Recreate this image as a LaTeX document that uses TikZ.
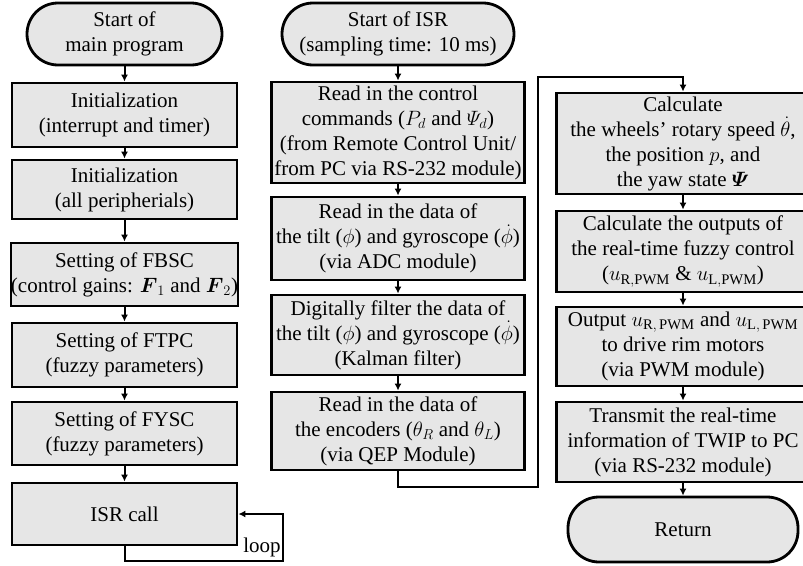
\documentclass[tikz,border=0pt]{standalone}
\usepackage{amsmath}
\usepackage{fontspec}
\setmainfont{Liberation Serif}
\usetikzlibrary{arrows.meta}
\definecolor{boxgray}{RGB}{230,230,230}

\begin{document}
\begin{tikzpicture}[x=1pt,y=-1pt,
  every node/.style={font=\fontsize{21}{25}\selectfont},
  proc/.style 2 args={draw, line width=2.8pt, fill=boxgray, align=center,
    inner sep=0pt, minimum width=#1, minimum height=#2},
  term/.style 2 args={proc={#1}{#2}, rounded corners=31pt},
  arr/.style={line width=2pt, -{Latex[length=7pt,width=7pt]}}]

\useasboundingbox (0,0) rectangle (803,565);

% Main program (left column)
\node[term={195}{62}] (startmain) at (124.5,34) {Start of\\main program};
\node[proc={225}{64}] (initit) at (124.5,115) {Initialization\\(interrupt and timer)};
\node[proc={225}{59}] (initper) at (124.5,189.5) {Initialization\\(all peripherials)};
\node[proc={225}{63}] (fbsc) at (124.5,274.5) {Setting of FBSC\\(control gains: $\boldsymbol{F}_1$ and $\boldsymbol{F}_2$)};
\node[proc={225}{64}] (ftpc) at (124.5,355) {Setting of FTPC\\(fuzzy parameters)};
\node[proc={225}{63}] (fysc) at (124.5,433.5) {Setting of FYSC\\(fuzzy parameters)};
\node[proc={225}{62}] (isrcall) at (124.5,514) {ISR call};

% ISR, first part (middle column)
\node[term={232}{62}] (startisr) at (398,34) {Start of ISR\\(sampling time: 10 ms)};
\node[proc={253}{101}] (readcmd) at (398,132.5) {Read in the control\\commands ($P_d$ and $\varPsi_d$)\\(from Remote Control Unit/\\from PC via RS-232 module)};
\node[proc={253}{83}] (readadc) at (398,238.5) {Read in the data of\\the tilt ($\phi$) and gyroscope ($\dot{\phi}$)\\(via ADC module)};
\node[proc={253}{80}] (kalman) at (398,335) {Digitally filter the data of\\the tilt ($\phi$) and gyroscope ($\dot{\phi}$)\\(Kalman filter)};
\node[proc={253}{78}] (readqep) at (398,431) {Read in the data of\\the encoders ($\theta_R$ and $\theta_L$)\\(via QEP Module)};

% ISR, second part (right column)
\node[proc={253}{101}] (calcstate) at (683,143.5) {Calculate\\the wheels' rotary speed $\dot{\theta}$,\\the position $p$, and\\the yaw state $\boldsymbol{\varPsi}$};
\node[proc={253}{81}] (calcfuzzy) at (683,251.5) {Calculate the outputs of\\the real-time fuzzy control\\($u_{\mathrm{R,PWM}}$ \& $u_{\mathrm{L,PWM}}$)};
\node[proc={253}{79}] (outpwm) at (683,346.5) {Output $u_{\mathrm{R,\,PWM}}$ and $u_{\mathrm{L,\,PWM}}$\\to drive rim motors\\(via PWM module)};
\node[proc={253}{80}] (transmit) at (683,442) {Transmit the real-time\\information of TWIP to PC\\(via RS-232 module)};
\node[term={230}{65}] (return) at (683,529.5) {Return};

% Arrows of the main program
\draw[arr] (startmain) -- (initit);
\draw[arr] (initit) -- (initper);
\draw[arr] (initper) -- (fbsc);
\draw[arr] (fbsc) -- (ftpc);
\draw[arr] (ftpc) -- (fysc);
\draw[arr] (fysc) -- (isrcall);

% Loop back to the ISR call
\coordinate (loopdown) at (124.5,561);
\coordinate (loopright) at (283,561);
\draw[arr] (isrcall.south) -- (loopdown) -- (loopright) |- (isrcall.east);
\node (looplabel) at (262,547) {loop};

% Arrows of the ISR
\draw[arr] (startisr) -- (readcmd);
\draw[arr] (readcmd) -- (readadc);
\draw[arr] (readadc) -- (kalman);
\draw[arr] (kalman) -- (readqep);

% Jump to the right column
\coordinate (jumpbot) at (538,487);
\coordinate (jumptop) at (538,77);
\draw[arr] (readqep.south) |- (jumpbot) -- (jumptop) -| (calcstate.north);

\draw[arr] (calcstate) -- (calcfuzzy);
\draw[arr] (calcfuzzy) -- (outpwm);
\draw[arr] (outpwm) -- (transmit);
\draw[arr] (transmit) -- (return);

\end{tikzpicture}
\end{document}
